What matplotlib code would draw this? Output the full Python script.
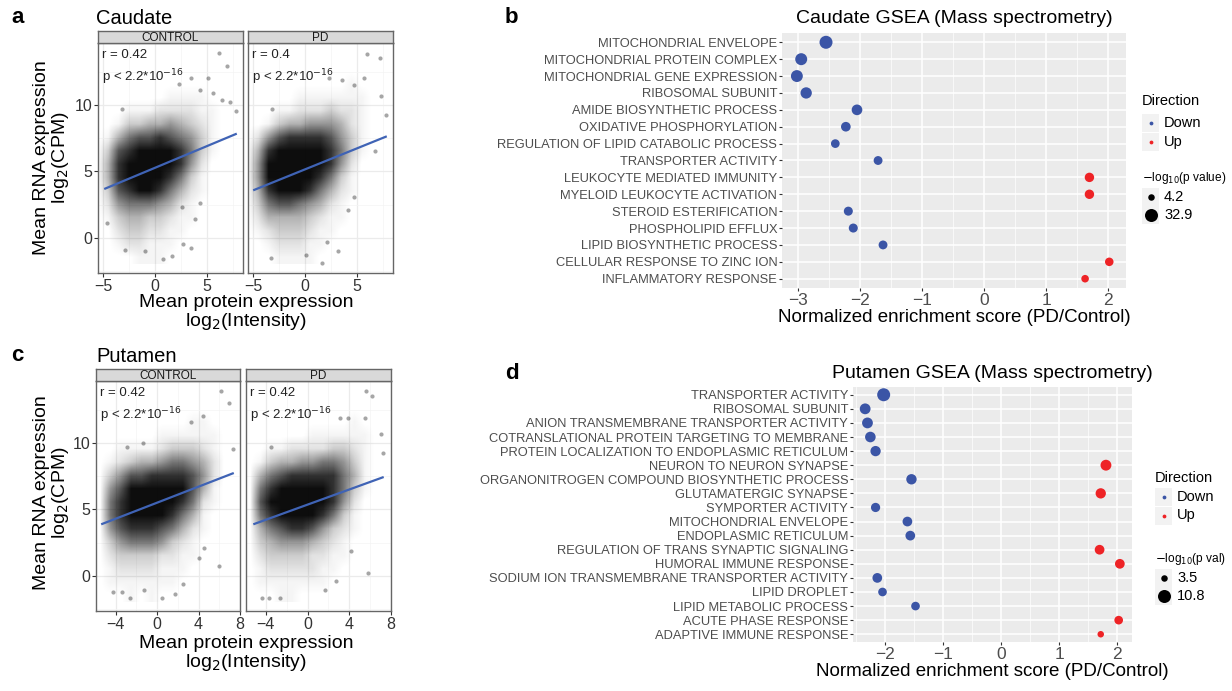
import numpy as np
import matplotlib
matplotlib.use("Agg")
import matplotlib.pyplot as plt
from matplotlib.colors import LinearSegmentedColormap
from matplotlib.patches import Rectangle

plt.rcParams['font.family'] = ['Liberation Sans', 'DejaVu Sans']

W, H = 1232, 691

# ---------------- scatter data (a, c) ----------------
# density of the point cloud, read per 1x1 cell; columns x = -6..7, rows y = 12..-2
caud_ctrl_grid = [
    [0, 0, 0, 0, 0, 0, 0, 0, 0, 0, 0, 0, 0, 0],
    [0, 0, 0, 0, 0, 0, 0, 0, 0, 0, 0, 0, 0, 0],
    [0, 0, 0, 0, 0, 0, 0, 1, 1, 1, 1, 0, 0, 0],
    [0, 0, 0, 1, 1, 1, 2, 2, 2, 2, 1, 1, 0, 0],
    [0, 0, 1, 3, 3, 4, 4, 5, 4, 3, 2, 1, 0, 0],
    [0, 1, 4, 6, 7, 7, 8, 7, 6, 5, 3, 1, 0, 0],
    [0, 3, 7, 8, 9, 9, 9, 9, 8, 6, 3, 1, 0, 0],
    [0, 4, 8, 9, 9, 9, 9, 9, 8, 5, 2, 0, 0, 0],
    [0, 4, 8, 9, 9, 9, 9, 8, 6, 3, 1, 0, 0, 0],
    [0, 3, 7, 8, 9, 9, 8, 6, 4, 2, 1, 0, 0, 0],
    [0, 2, 5, 6, 6, 6, 5, 4, 2, 1, 0, 0, 0, 0],
    [0, 1, 3, 4, 4, 3, 3, 2, 1, 1, 0, 0, 0, 0],
    [0, 0, 2, 3, 3, 2, 2, 1, 1, 0, 0, 0, 0, 0],
    [0, 0, 1, 2, 2, 1, 1, 1, 0, 0, 0, 0, 0, 0],
    [0, 0, 0, 0, 1, 1, 1, 0, 0, 0, 0, 0, 0, 0],
]
caud_pd_grid = [
    [0, 0, 0, 0, 0, 0, 0, 0, 0, 0, 0, 0, 0, 0],
    [0, 0, 0, 0, 0, 0, 0, 0, 0, 0, 1, 0, 0, 0],
    [0, 0, 0, 0, 0, 1, 1, 1, 1, 1, 1, 1, 0, 0],
    [0, 0, 0, 1, 1, 2, 2, 2, 3, 2, 2, 1, 0, 0],
    [0, 0, 1, 3, 4, 4, 5, 5, 5, 4, 2, 1, 0, 0],
    [0, 2, 5, 7, 8, 8, 8, 8, 7, 5, 3, 1, 0, 0],
    [0, 4, 8, 9, 9, 9, 9, 9, 8, 6, 3, 1, 0, 0],
    [0, 5, 9, 9, 9, 9, 9, 9, 8, 5, 2, 0, 0, 0],
    [0, 5, 9, 9, 9, 9, 9, 8, 6, 3, 1, 0, 0, 0],
    [0, 4, 8, 9, 9, 9, 8, 6, 4, 2, 1, 0, 0, 0],
    [0, 3, 6, 7, 7, 6, 5, 4, 2, 1, 0, 0, 0, 0],
    [0, 2, 4, 4, 4, 4, 3, 2, 1, 1, 0, 0, 0, 0],
    [0, 1, 2, 3, 3, 3, 2, 1, 1, 0, 0, 0, 0, 0],
    [0, 0, 1, 2, 2, 2, 1, 1, 0, 0, 0, 0, 0, 0],
    [0, 0, 0, 1, 1, 1, 1, 0, 0, 0, 0, 0, 0, 0],
]
put_ctrl_grid = [
    [0, 0, 0, 0, 0, 0, 0, 0, 0, 0, 0, 0, 0, 0],
    [0, 0, 0, 0, 0, 0, 0, 0, 0, 1, 1, 0, 0, 0],
    [0, 0, 0, 0, 0, 0, 1, 1, 1, 1, 1, 1, 0, 0],
    [0, 0, 1, 1, 1, 1, 2, 3, 3, 3, 2, 1, 0, 0],
    [0, 1, 2, 3, 4, 4, 5, 6, 6, 5, 4, 2, 0, 0],
    [0, 3, 5, 7, 7, 8, 8, 8, 8, 7, 5, 2, 0, 0],
    [0, 5, 7, 9, 9, 9, 9, 9, 9, 7, 4, 1, 0, 0],
    [0, 6, 8, 9, 9, 9, 9, 9, 8, 6, 2, 1, 0, 0],
    [0, 6, 8, 9, 9, 9, 9, 8, 6, 4, 1, 0, 0, 0],
    [0, 5, 7, 8, 8, 8, 7, 6, 4, 2, 1, 0, 0, 0],
    [0, 3, 5, 6, 6, 6, 5, 3, 2, 1, 0, 0, 0, 0],
    [0, 2, 3, 3, 3, 3, 2, 2, 1, 1, 0, 0, 0, 0],
    [0, 1, 2, 2, 2, 2, 1, 1, 1, 0, 0, 0, 0, 0],
    [0, 1, 1, 1, 1, 1, 1, 1, 0, 0, 0, 0, 0, 0],
    [0, 0, 0, 1, 0, 1, 0, 0, 0, 0, 0, 0, 0, 0],
]
put_pd_grid = [
    [0, 0, 0, 0, 0, 0, 0, 0, 0, 0, 0, 0, 0, 0],
    [0, 0, 0, 0, 0, 0, 0, 0, 0, 0, 1, 0, 0, 0],
    [0, 0, 0, 0, 0, 0, 1, 1, 1, 1, 1, 1, 0, 0],
    [0, 0, 1, 1, 2, 2, 2, 2, 3, 3, 2, 1, 0, 0],
    [0, 1, 3, 4, 4, 5, 5, 6, 6, 5, 3, 1, 0, 0],
    [0, 4, 6, 7, 8, 8, 8, 8, 8, 6, 4, 1, 0, 0],
    [0, 6, 8, 9, 9, 9, 9, 9, 8, 6, 3, 1, 0, 0],
    [0, 7, 9, 9, 9, 9, 9, 9, 8, 5, 2, 0, 0, 0],
    [0, 6, 8, 9, 9, 9, 9, 8, 6, 3, 1, 0, 0, 0],
    [0, 4, 6, 7, 8, 8, 7, 5, 3, 2, 1, 0, 0, 0],
    [0, 3, 4, 5, 5, 5, 4, 3, 2, 1, 0, 0, 0, 0],
    [0, 2, 3, 3, 3, 3, 2, 2, 1, 1, 0, 0, 0, 0],
    [0, 1, 2, 2, 2, 2, 2, 1, 1, 0, 0, 0, 0, 0],
    [0, 1, 1, 1, 1, 1, 1, 1, 0, 0, 0, 0, 0, 0],
    [0, 0, 0, 1, 1, 0, 0, 0, 0, 0, 0, 0, 0, 0],
]

# sparse points outside the dense cloud
caud_ctrl_x = [6.2, 7.0, 3.5, 2.3, 5.1, 4.3, 7.8, 7.2, 6.5, -3.2, 5.6, 0.8, 1.6, 3.5, 4.3, 3.9, 2.7, -1.0, -2.9, 2.6, -4.6]
caud_ctrl_y = [13.9, 12.9, 12.0, 11.6, 12.0, 11.1, 9.5, 10.2, 10.4, 9.7, 10.9, -1.6, -1.4, -0.8, 2.6, 1.4, -0.5, -1.0, -0.9, 2.3, 1.1]
caud_pd_x = [6.0, 7.2, 2.3, 3.6, 5.7, 4.7, 7.3, 7.8, 6.8, -3.2, 4.2, 4.7, 1.6, 3.2, -3.3, 0.1, 2.1]
caud_pd_y = [13.8, 13.5, 12.0, 11.9, 12.0, 11.5, 10.7, 9.2, 6.5, 9.7, 2.1, 3.1, -1.9, -1.0, -1.5, -1.3, -0.3]
put_ctrl_x = [6.2, 6.9, 3.3, 4.4, 7.3, -2.9, -1.4, 6.0, 0.5, -4.3, -3.4, 1.7, 2.5, 4.0, 4.5, -1.3, -2.6]
put_ctrl_y = [13.9, 13.0, 11.6, 12.0, 9.5, 9.7, 10.0, 0.7, -1.7, -1.2, -1.2, -1.4, -0.6, 1.3, 2.1, -1.1, -1.7]
put_pd_x = [5.6, 6.2, 3.1, 5.5, 3.9, 7.0, 7.2, -3.5, 5.8, -4.4, -3.7, -2.6, 1.7, 2.7, 4.2]
put_pd_y = [13.9, 13.5, 11.9, 11.9, 11.9, 10.7, 9.2, 9.7, 0.2, -1.7, -1.7, -1.7, -1.1, -0.4, 1.9]

# linear fit end points
caud_ctrl_fit = ([-4.8, 7.8], [3.7, 7.8])
caud_pd_fit = ([-4.9, 7.8], [3.6, 7.6])
put_ctrl_fit = ([-5.3, 7.3], [3.9, 7.7])
put_pd_fit = ([-5.1, 7.2], [3.9, 7.4])

caud_r = ["r = 0.42", "r = 0.4"]
put_r = ["r = 0.42", "r = 0.42"]

# ---------------- GSEA data (b, d) ----------------
caud_terms = ["MITOCHONDRIAL ENVELOPE", "MITOCHONDRIAL PROTEIN COMPLEX", "MITOCHONDRIAL GENE EXPRESSION",
              "RIBOSOMAL SUBUNIT", "AMIDE BIOSYNTHETIC PROCESS", "OXIDATIVE PHOSPHORYLATION",
              "REGULATION OF LIPID CATABOLIC PROCESS", "TRANSPORTER ACTIVITY", "LEUKOCYTE MEDIATED IMMUNITY",
              "MYELOID LEUKOCYTE ACTIVATION", "STEROID ESTERIFICATION", "PHOSPHOLIPID EFFLUX",
              "LIPID BIOSYNTHETIC PROCESS", "CELLULAR RESPONSE TO ZINC ION", "INFLAMMATORY RESPONSE"]
caud_nes = [-2.55, -2.95, -3.02, -2.87, -2.05, -2.23, -2.40, -1.71, 1.70, 1.70, -2.19, -2.11, -1.63, 2.02, 1.63]
caud_logp = [32.9, 24.6, 24.0, 20.0, 16.0, 11.0, 7.5, 8.0, 10.0, 10.0, 8.5, 8.5, 8.0, 7.0, 5.0]

put_terms = ["TRANSPORTER ACTIVITY", "RIBOSOMAL SUBUNIT", "ANION TRANSMEMBRANE TRANSPORTER ACTIVITY",
             "COTRANSLATIONAL PROTEIN TARGETING TO MEMBRANE", "PROTEIN LOCALIZATION TO ENDOPLASMIC RETICULUM",
             "NEURON TO NEURON SYNAPSE", "ORGANONITROGEN COMPOUND BIOSYNTHETIC PROCESS", "GLUTAMATERGIC SYNAPSE",
             "SYMPORTER ACTIVITY", "MITOCHONDRIAL ENVELOPE", "ENDOPLASMIC RETICULUM",
             "REGULATION OF TRANS SYNAPTIC SIGNALING", "HUMORAL IMMUNE RESPONSE",
             "SODIUM ION TRANSMEMBRANE TRANSPORTER ACTIVITY", "LIPID DROPLET", "LIPID METABOLIC PROCESS",
             "ACUTE PHASE RESPONSE", "ADAPTIVE IMMUNE RESPONSE"]
put_nes = [-2.03, -2.35, -2.31, -2.26, -2.17, 1.81, -1.55, 1.72, -2.17, -1.62, -1.57, 1.70, 2.05, -2.14,
           -2.05, -1.48, 2.03, 1.72]
put_logp = [10.8, 6.7, 6.7, 6.4, 6.0, 6.8, 6.1, 6.0, 4.8, 5.3, 5.3, 5.3, 5.3, 5.3, 4.3, 4.3, 4.3, 3.5]

BLUE = "#3B55A6"
RED = "#EE2326"


def px_axes(fig, x0, y0, x1, y1):
    return fig.add_axes([x0 / W, 1 - y1 / H, (x1 - x0) / W, (y1 - y0) / H])


cloud_cmap = LinearSegmentedColormap.from_list("cloud", [(0, 0, 0, 0), (0, 0, 0, 0.95)])


def scatter_panel(fig, box, strip_label, grid, px, py, fit, r_text, xlim, xticks, show_y):
    x0, y0, x1, y1 = box
    ax = px_axes(fig, x0, y0 + 12, x1, y1)
    ax.set_xticks(xticks)
    ax.set_yticks([0, 5, 10])
    step = xticks[1] - xticks[0]
    ax.set_xticks([t + step / 2 for t in [xticks[0] - step] + xticks], minor=True)
    ax.set_yticks([-2.5, 2.5, 7.5, 12.5], minor=True)
    ax.grid(which="major", color="#EBEBEB", lw=0.9)
    ax.grid(which="minor", color="#F4F4F4", lw=0.5)
    ax.set_axisbelow(True)
    dens = (np.array(grid) / 9.0) ** 1.4
    ax.imshow(dens, extent=(-6, 8, -2, 13), cmap=cloud_cmap, vmin=0, vmax=1,
              interpolation="bilinear", aspect="auto", origin="upper", zorder=1)
    ax.set_xlim(*xlim)
    ax.set_ylim(-2.65, 14.65)
    ax.scatter(px, py, s=9, color="black", alpha=0.35, lw=0, zorder=2)
    ax.plot(fit[0], fit[1], color="#3F63B5", lw=1.6, zorder=3)
    ax.text(0.03, 0.975, r_text, transform=ax.transAxes, ha="left", va="top", fontsize=9.5, color="#222222")
    ax.text(0.03, 0.895, r"p < 2.2*10$^{-16}$", transform=ax.transAxes, ha="left", va="top",
            fontsize=9.5, color="#222222")
    for s in ax.spines.values():
        s.set_color("#666666")
        s.set_linewidth(1.0)
    ax.tick_params(which="minor", length=0)
    ax.tick_params(which="major", length=3, color="#333333", labelsize=11.5, labelcolor="#333333", pad=1)
    if not show_y:
        ax.set_yticklabels([])
        ax.tick_params(axis="y", length=0)
    # facet strip
    st = px_axes(fig, x0, y0, x1, y0 + 12)
    st.set_facecolor("#D9D9D9")
    st.set_xticks([])
    st.set_yticks([])
    for s in st.spines.values():
        s.set_color("#666666")
        s.set_linewidth(1.0)
    st.text(0.5, 0.45, strip_label, transform=st.transAxes, ha="center", va="center",
            fontsize=8.5, color="#1A1A1A")
    return ax


def dot_diam(v, vmin, vmax, dmin=6.5, dmax=13.0):
    t = (np.asarray(v, dtype=float) - vmin) / (vmax - vmin)
    return dmin + (dmax - dmin) * np.sqrt(np.clip(t, 0, 1))


def gsea_panel(fig, box, terms, nes, logp, vrange, xlim, xticks):
    ax = px_axes(fig, *box)
    n = len(terms)
    ypos = np.arange(n)
    cols = [RED if v > 0 else BLUE for v in nes]
    d = dot_diam(logp, *vrange)
    ax.scatter(nes, ypos, s=(d * 0.72) ** 2, c=cols, lw=0, zorder=3)
    ax.set_facecolor("#EBEBEB")
    ax.set_yticks(ypos)
    ax.set_yticklabels(terms)
    ax.set_xticks(xticks)
    ax.set_xticks([t + 0.5 for t in [xticks[0] - 1] + xticks], minor=True)
    ax.set_xlim(*xlim)
    ax.set_ylim(n - 0.45, -0.55)
    ax.grid(which="major", color="white", lw=1.1)
    ax.grid(which="minor", axis="x", color="white", lw=0.5)
    ax.set_axisbelow(True)
    for s in ax.spines.values():
        s.set_visible(False)
    ax.tick_params(which="minor", length=0)
    ax.tick_params(axis="y", length=2.5, color="#333333", labelsize=9.3, labelcolor="#4D4D4D", pad=1)
    ax.tick_params(axis="x", length=2.5, color="#333333", labelsize=12.5, labelcolor="#4D4D4D", pad=1)
    ax.set_xlabel("Normalized enrichment score (PD/Control)", fontsize=13.5, color="black", labelpad=1)
    return ax


def legend(ov, x, y_title, y_down, y_size_title, size_labels, vrange, size_title):
    ov.text(x, y_title, "Direction", fontsize=10.5, ha="left", va="center", color="black")
    for yy, col, lab in [(y_down, BLUE, "Down"), (y_down + 18.5, RED, "Up")]:
        ov.add_patch(Rectangle((x, yy - 9), 17, 18, facecolor="#F2F2F2", edgecolor="none"))
        ov.scatter([x + 8.5], [yy], s=(3.8 * 0.72) ** 2, color=col, lw=0)
        ov.text(x + 22, yy, lab, fontsize=10.5, ha="left", va="center")
    ov.text(x, y_size_title, size_title, fontsize=8.6, ha="left", va="center")
    for i, lab in enumerate(size_labels):
        yy = y_size_title + 19 + 18 * i
        ov.add_patch(Rectangle((x, yy - 9), 17, 18, facecolor="#F2F2F2", edgecolor="none"))
        dd = dot_diam(float(lab), *vrange)
        ov.scatter([x + 8.5], [yy], s=(dd * 0.72) ** 2, color="black", lw=0)
        ov.text(x + 22, yy, lab, fontsize=10.5, ha="left", va="center")


fig = plt.figure(figsize=(W / 100, H / 100), dpi=100)
ov = fig.add_axes([0, 0, 1, 1], zorder=-1)
ov.set_xlim(0, W)
ov.set_ylim(H, 0)
ov.axis("off")

# panel a
scatter_panel(fig, (98, 31, 243, 273), "CONTROL", caud_ctrl_grid, caud_ctrl_x, caud_ctrl_y, caud_ctrl_fit,
              caud_r[0], (-5.5, 8.5), [-5, 0, 5], True)
scatter_panel(fig, (248, 31, 393, 273), "PD", caud_pd_grid, caud_pd_x, caud_pd_y, caud_pd_fit,
              caud_r[1], (-5.5, 8.5), [-5, 0, 5], False)
# panel c
scatter_panel(fig, (96, 369, 240, 611), "CONTROL", put_ctrl_grid, put_ctrl_x, put_ctrl_y, put_ctrl_fit,
              put_r[0], (-5.9, 8.0), [-4, 0, 4, 8], True)
scatter_panel(fig, (246, 369, 391, 611), "PD", put_pd_grid, put_pd_x, put_pd_y, put_pd_fit,
              put_r[1], (-5.9, 8.0), [-4, 0, 4, 8], False)

for yc, yx in [(158, 313), (493, 654)]:
    ov.text(52, yc, "Mean RNA expression\nlog$_2$(CPM)", rotation=90, ha="center", va="center",
            fontsize=14, linespacing=1.05)
    ov.text(246, yx, "Mean protein expression\nlog$_2$(Intensity)", ha="center", va="center",
            fontsize=14, linespacing=1.05)

ov.text(96, 18, "Caudate", fontsize=14.5, ha="left", va="center")
ov.text(96, 356, "Putamen", fontsize=14.5, ha="left", va="center")
for lab, xx, yy in [("a", 11, 17), ("b", 505, 17), ("c", 11, 355), ("d", 505, 373)]:
    ov.text(xx, yy, lab, fontsize=16, fontweight="bold", ha="left", va="center")

# panels b, d
gsea_panel(fig, (782, 33, 1126, 288), caud_terms, caud_nes, caud_logp, (4.2, 32.9), (-3.26, 2.29),
           [-3, -2, -1, 0, 1, 2])
ov.text(954, 18, "Caudate GSEA (Mass spectrometry)", fontsize=14, ha="center", va="center")
gsea_panel(fig, (853, 387, 1132, 642), put_terms, put_nes, put_logp, (3.5, 10.8), (-2.56, 2.26),
           [-2, -1, 0, 1, 2])
ov.text(992, 373, "Putamen GSEA (Mass spectrometry)", fontsize=14, ha="center", va="center")

legend(ov, 1142, 101, 123, 178, ["4.2", "32.9"], (4.2, 32.9), r"$-$log$_{10}$(p value)")
legend(ov, 1155, 478, 497, 559, ["3.5", "10.8"], (3.5, 10.8), r"$-$log$_{10}$(p val)")

fig.savefig("out.png", dpi=100)
